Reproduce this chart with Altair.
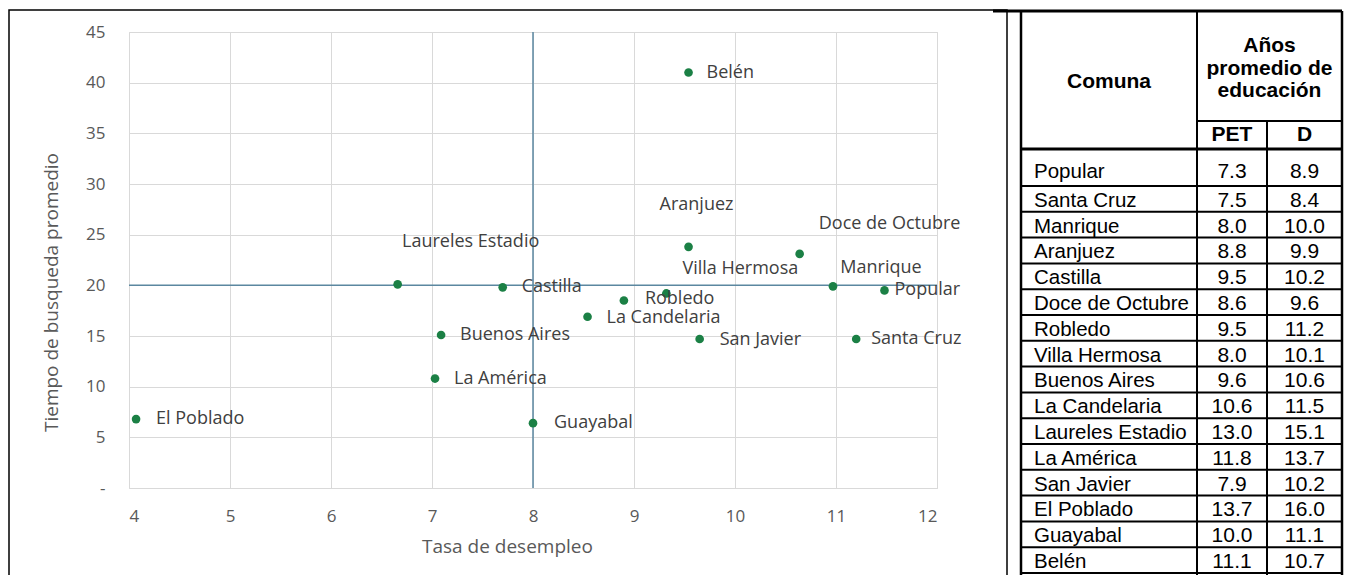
import altair as alt
import pandas as pd

# ---------------- Scatter data ----------------
comunas = ["Belén", "Aranjuez", "Doce de Octubre", "Manrique", "Popular",
           "Laureles Estadio", "Castilla", "Robledo", "Villa Hermosa",
           "La Candelaria", "Buenos Aires", "La América", "El Poblado",
           "Guayabal", "San Javier", "Santa Cruz"]
desempleo = [9.54, 9.54, 10.64, 10.97, 11.48, 6.66, 7.70, 8.90, 9.32,
             8.54, 7.09, 7.03, 4.07, 8.00, 9.65, 11.20]
tiempo = [41.0, 23.8, 23.1, 19.9, 19.5, 20.1, 19.8, 18.5, 19.2,
          16.9, 15.1, 10.8, 6.8, 6.4, 14.7, 14.7]

umbral_desempleo = [8]
umbral_tiempo = [20]

# ---------------- Table data ----------------
tabla_comunas = ["Popular", "Santa Cruz", "Manrique", "Aranjuez", "Castilla",
                 "Doce de Octubre", "Robledo", "Villa Hermosa", "Buenos Aires",
                 "La Candelaria", "Laureles Estadio", "La América", "San Javier",
                 "El Poblado", "Guayabal", "Belén"]
tabla_pet = [7.3, 7.5, 8.0, 8.8, 9.5, 8.6, 9.5, 8.0, 9.6, 10.6, 13.0, 11.8, 7.9, 13.7, 10.0, 11.1]
tabla_d = [8.9, 8.4, 10.0, 9.9, 10.2, 9.6, 11.2, 10.1, 10.6, 11.5, 15.1, 13.7, 10.2, 16.0, 11.1, 10.7]

# ---------------- Styling ----------------
FONT = "Open Sans"
TFONT = "Liberation Sans"
GREEN = "#1b8045"
REF = "#5b87a0"
GRID = "#d9d9d9"
AXC = "#595959"

# label placement (dx, dy, align) -- purely styling
label_style = {
    "Belén": (18, 0, "left"),
    "Castilla": (19, 0, "left"),
    "Popular": (10, 0, "left"),
    "Robledo": (21, -2, "left"),
    "La Candelaria": (19, 1, "left"),
    "Buenos Aires": (19, 0, "left"),
    "La América": (19, 0, "left"),
    "El Poblado": (20, 0, "left"),
    "Guayabal": (21, 0, "left"),
    "San Javier": (20, 1, "left"),
    "Santa Cruz": (15, 0, "left"),
    "Aranjuez": (8, -42, "center"),
    "Doce de Octubre": (90, -30, "center"),
    "Villa Hermosa": (74, -24, "center"),
    "Manrique": (48, -18, "center"),
    "Laureles Estadio": (73, -42, "center"),
}

W, H = 808, 456
PAD = {"left": 121, "top": 24, "right": 1336 - 121 - W, "bottom": 567 - 24 - H}

df = pd.DataFrame({"comuna": comunas, "desempleo": desempleo, "tiempo": tiempo})
df_vx = pd.DataFrame({"desempleo": umbral_desempleo})
df_hy = pd.DataFrame({"tiempo": umbral_tiempo})

x_enc = alt.X(
    "desempleo:Q", title="Tasa de desempleo",
    scale=alt.Scale(domain=[4, 12], nice=False, zero=False),
    axis=alt.Axis(values=list(range(4, 13)), grid=True, gridColor=GRID, ticks=False,
                  tickSize=0, domain=False, labelFont=FONT, labelFontSize=17,
                  labelColor=AXC, labelPadding=20, titleFont=FONT, titleFontSize=19,
                  titleFontWeight="normal", titleColor=AXC, titlePadding=13, titleX=378),
)
y_enc = alt.Y(
    "tiempo:Q", title="Tiempo de busqueda promedio",
    scale=alt.Scale(domain=[0, 45], nice=False, zero=True),
    axis=alt.Axis(values=list(range(0, 46, 5)), grid=True, gridColor=GRID, ticks=False,
                  tickSize=0, domain=False, labelFont=FONT, labelFontSize=17,
                  labelColor=AXC, labelPadding=24,
                  labelExpr="datum.value == 0 ? '-' : datum.label",
                  titleFont=FONT, titleFontSize=19, titleFontWeight="normal",
                  titleColor=AXC, titlePadding=24, titleY=260),
)

vrule = alt.Chart(df_vx).mark_rule(color=REF, strokeWidth=1.5).encode(x=x_enc)
hrule = alt.Chart(df_hy).mark_rule(color=REF, strokeWidth=1.5).encode(y=y_enc)
points = alt.Chart(df).mark_circle(size=75, color=GREEN, opacity=1).encode(x=x_enc, y=y_enc)

labels = []
for name in comunas:
    dx, dy, align = label_style[name]
    labels.append(
        alt.Chart(df).transform_filter(alt.datum.comuna == name)
        .mark_text(font=FONT, fontSize=18, color="#404040", align=align,
                   baseline="middle", dx=dx, dy=dy)
        .encode(x=x_enc, y=y_enc, text="comuna:N")
    )

scatter = alt.layer(vrule, hrule, points, *labels)

# ---------------- Table ----------------
tdf = pd.DataFrame({"fila": list(range(len(tabla_comunas))), "comuna": tabla_comunas,
                    "pet": tabla_pet, "d": tabla_d})
fila_scale = alt.Scale(domain=[0, 15], range=[154, 541], nice=False, zero=False)
y_fila = alt.Y("fila:Q", scale=fila_scale, axis=None)

L, C1, C2, R = 892, 1068, 1138, 1213
TOP, SUB, THICK, BOT = -21, 89, 117, 541

one = alt.Data(values=[{"a": 1}])

row_lines = alt.Chart(tdf).mark_rule(color="black", strokeWidth=2).encode(
    y=y_fila, x=alt.value(L), x2=alt.value(R))


def ttext(col, xpos, align, first, size, fmt=None):
    dy = -8 if first else -5
    cond = alt.datum.fila == 0 if first else alt.datum.fila > 0
    txt = alt.Text(col, format=fmt) if fmt else alt.Text(col)
    return (alt.Chart(tdf).transform_filter(cond)
            .mark_text(font=TFONT, fontSize=size, color="black", align=align,
                       baseline="alphabetic", dy=dy)
            .encode(y=y_fila, x=alt.value(xpos), text=txt))


NAME_X = 905
PET_X = (C1 + C2) / 2
D_X = (C2 + R) / 2
table_texts = [
    ttext("comuna:N", NAME_X, "left", True, 20.5), ttext("comuna:N", NAME_X, "left", False, 20.5),
    ttext("pet:Q", PET_X, "center", True, 21, ".1f"), ttext("pet:Q", PET_X, "center", False, 21, ".1f"),
    ttext("d:Q", D_X, "center", True, 21, ".1f"), ttext("d:Q", D_X, "center", False, 21, ".1f"),
]


def hline(x1, x2, y, w):
    return alt.Chart(one).mark_rule(color="black", strokeWidth=w).encode(
        x=alt.value(x1), x2=alt.value(x2), y=alt.value(y))


def vline(x, y1, y2, w):
    return alt.Chart(one).mark_rule(color="black", strokeWidth=w).encode(
        x=alt.value(x), y=alt.value(y1), y2=alt.value(y2))


def htext(t, x, y):
    return alt.Chart(one).mark_text(font=TFONT, fontSize=21, fontWeight="bold",
                                    color="black", align="center", baseline="middle").encode(
        x=alt.value(x), y=alt.value(y), text=alt.value(t))


structure = [
    hline(L - 28, R, TOP, 3), hline(C1, R, SUB, 2), hline(L, R, THICK, 3),
    vline(L, TOP, BOT + 10, 2.5), vline(C1, TOP, BOT + 10, 2), vline(C2, SUB, BOT + 10, 2),
    vline(R, TOP, BOT + 10, 2.5),
]
headers = [
    htext("Comuna", (L + C1) / 2, 50),
    htext("Años", (C1 + R) / 2, 14),
    htext("promedio de", (C1 + R) / 2, 37),
    htext("educación", (C1 + R) / 2, 59),
    htext("PET", PET_X, 103),
    htext("D", D_X, 103),
]

table = alt.layer(row_lines, *table_texts, *structure, *headers)

frame = alt.Chart(one).mark_rect(fill="transparent", stroke="black", strokeWidth=1.5).encode(
    x=alt.value(-120), x2=alt.value(878), y=alt.value(-22), y2=alt.value(620))

chart = (
    alt.layer(frame, scatter, table)
    .resolve_scale(y="independent")
    .properties(width=W, height=H, padding=PAD, autosize=alt.AutoSizeParams(type="none"),
                background="white")
    .configure_view(stroke=GRID)
)

chart.save("out.html", embed_options={"renderer": "svg", "actions": False})
